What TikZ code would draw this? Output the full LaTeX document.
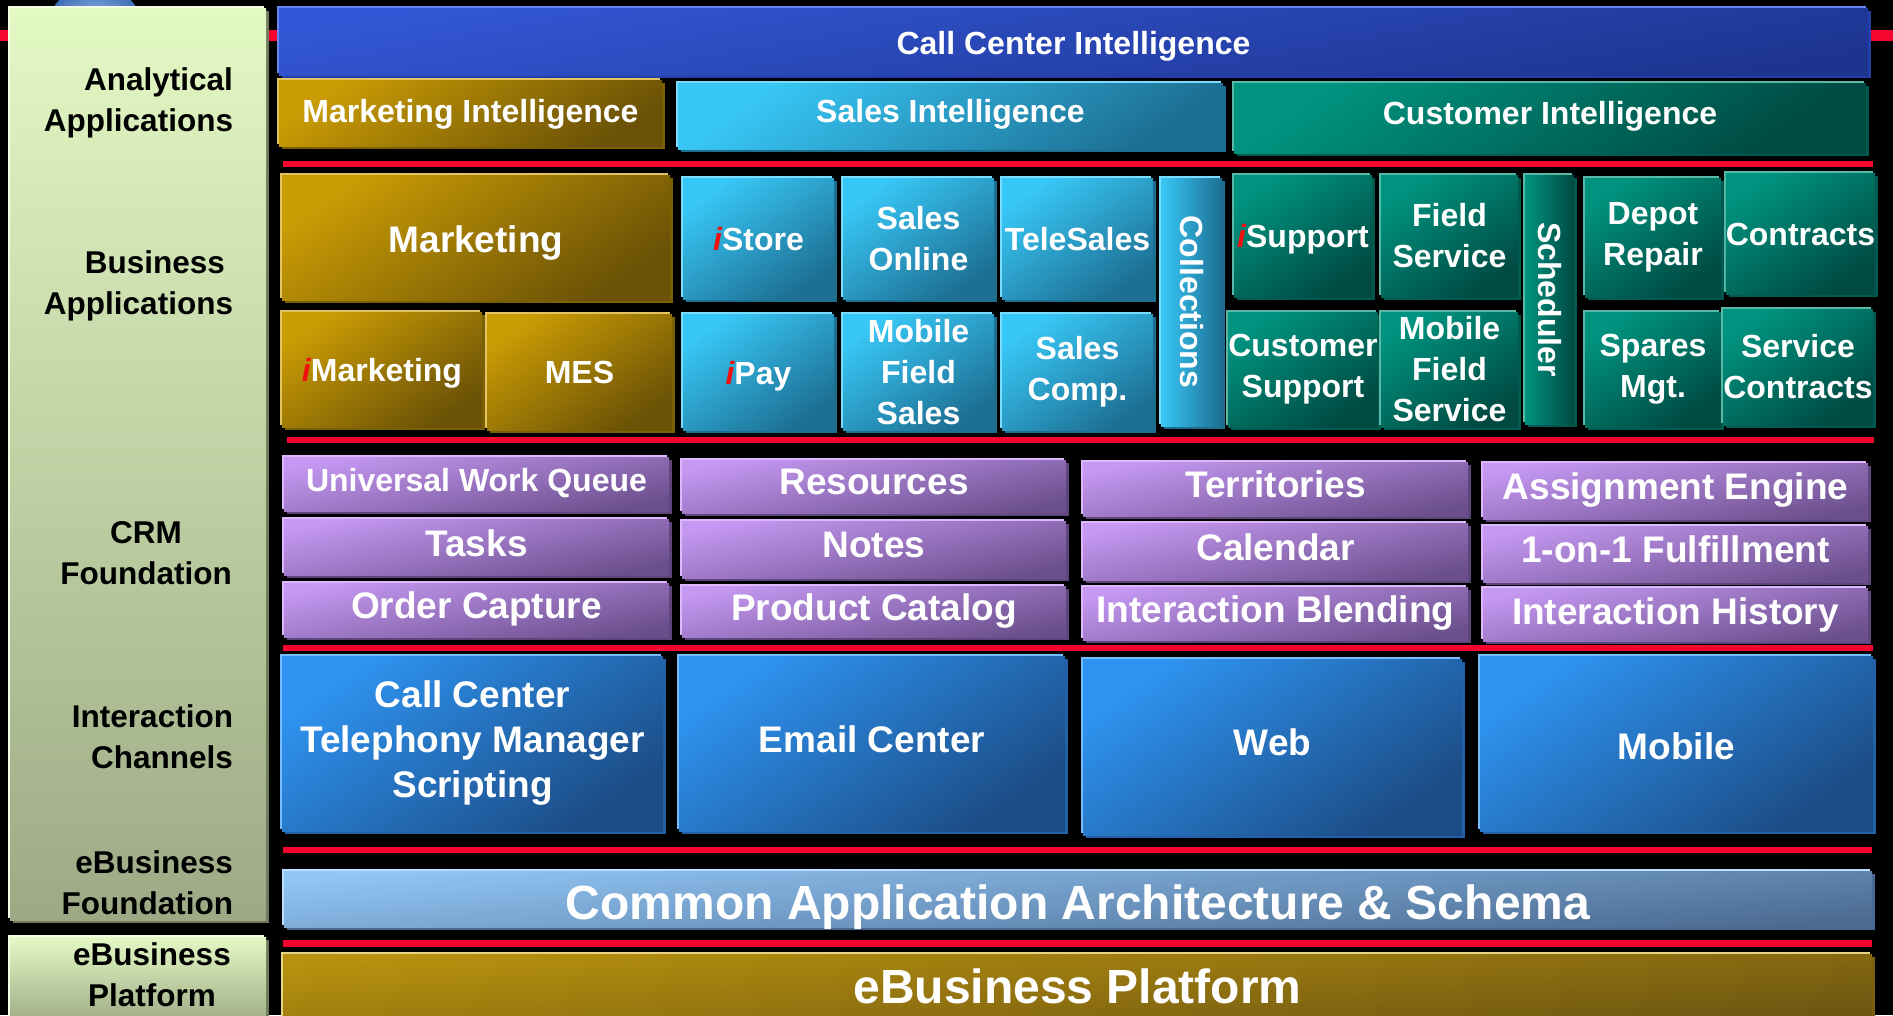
\documentclass[tikz,border=0pt]{standalone}
\usepackage{fontspec}
\setmainfont{Liberation Sans}

\definecolor{ired}{HTML}{F01010}
\definecolor{redline}{HTML}{F5062E}
\definecolor{goldT}{HTML}{C99B05}\definecolor{goldB}{HTML}{6B5206}\definecolor{goldE}{HTML}{E2C466}\definecolor{goldS}{HTML}{7C6000}
\definecolor{skyT}{HTML}{38C8F7}\definecolor{skyB}{HTML}{1D6F93}\definecolor{skyE}{HTML}{7ADCFF}\definecolor{skyS}{HTML}{1E6E90}
\definecolor{tealT}{HTML}{00937F}\definecolor{tealB}{HTML}{004A42}\definecolor{tealE}{HTML}{5AB8A8}\definecolor{tealS}{HTML}{005A50}
\definecolor{cciT}{HTML}{3357D6}\definecolor{cciB}{HTML}{1D348F}\definecolor{cciE}{HTML}{6686F0}\definecolor{cciS}{HTML}{2440A8}
\definecolor{purT}{HTML}{C598F2}\definecolor{purB}{HTML}{6B4F8C}\definecolor{purE}{HTML}{DDB8FF}\definecolor{purS}{HTML}{5E457C}
\definecolor{chanT}{HTML}{2E93F0}\definecolor{chanB}{HTML}{1C4C86}\definecolor{chanE}{HTML}{78BCFF}\definecolor{chanS}{HTML}{2362A8}
\definecolor{archT}{HTML}{92C6F5}\definecolor{archB}{HTML}{4B6A90}\definecolor{archE}{HTML}{BCDEFF}\definecolor{archS}{HTML}{4A6890}
\definecolor{platT}{HTML}{B8920E}\definecolor{platB}{HTML}{6E5612}\definecolor{platE}{HTML}{E8D488}\definecolor{platS}{HTML}{7A6010}
\definecolor{lcolT}{HTML}{E3F9C4}\definecolor{lcolB}{HTML}{9DA985}\definecolor{lcolE}{HTML}{F2FFE4}\definecolor{lcolS}{HTML}{6F7A5C}
\definecolor{globeL}{HTML}{B0CCF0}\definecolor{globeD}{HTML}{3E6EB8}

\newcommand\fntA{\bfseries\fontsize{32}{41}\selectfont}
\newcommand\fntB{\bfseries\fontsize{37}{45}\selectfont}
\newcommand\fntC{\bfseries\fontsize{48}{56}\selectfont}
\newcommand\fntL{\bfseries\fontsize{31.5}{41}\selectfont}
\newcommand\ri{{\color{ired}\itshape i}}
\newcommand\tile[7][]{%
  \node[tile,#1,minimum width={(#5-#3)*1pt},minimum height={(#6-#4)*1pt}] (#2) at ({(#3+#5)/2},{(#4+#6)/2}) {#7};}

\tikzset{
  tile/.style={inner sep=0pt, outer sep=0pt, text=white, align=center, font=\fntA},
  capy/.style={text height=#1pt, text depth=0pt},
  fam/.style n args={5}{top color=#1, bottom color=#2, shading angle=#5,
     preaction={fill=#3, transform canvas={shift={(-2pt,2pt)}}},
     preaction={fill=#4, transform canvas={shift={(3pt,-3pt)}}}},
  famv/.style n args={4}{left color=#1, right color=#2,
     preaction={fill=#3, transform canvas={shift={(-2pt,2pt)}}},
     preaction={fill=#4, transform canvas={shift={(3pt,-3pt)}}}},
  gold/.style={fam={goldT}{goldB}{goldE}{goldS}{35}},
  sky/.style={fam={skyT}{skyB}{skyE}{skyS}{35}},
  skyv/.style={famv={skyT}{skyB}{skyE}{skyS}},
  teal/.style={fam={tealT}{tealB}{tealE}{tealS}{35}},
  tealv/.style={famv={tealT}{tealB}{tealE}{tealS}},
  cci/.style={fam={cciT}{cciB}{cciE}{cciS}{10}},
  purp/.style={fam={purT}{purB}{purE}{purS}{12}, font=\fntB},
  chan/.style={fam={chanT}{chanB}{chanE}{chanS}{35}, font=\fntB},
  arch/.style={fam={archT}{archB}{archE}{archS}{5}, font=\fntC},
  plat/.style={fam={platT}{platB}{platE}{platS}{5}, font=\fntC},
  lcol/.style={fam={lcolT}{lcolB}{lcolE}{lcolS}{0}},
  lab/.style={inner sep=0pt, outer sep=0pt, text=black, font=\fntL},
  vtext/.style={inner sep=0pt, text=white, font=\fntA, rotate=-90},
  rline/.style={draw=redline, line width=6pt}
}

\begin{document}
\begin{tikzpicture}[x=1pt,y=-1pt]
\useasboundingbox (0,0) rectangle (1893,1015);
\fill[black] (0,0) rectangle (1893,1015);

% globe peeking above the label column
\fill[inner color=globeL, outer color=globeD] (95,35) circle (50);

% red separator lines
\draw[rline, line width=11pt] (0,35.5) -- (1893,35.5);
\draw[rline] (283,164) -- (1873,164);
\draw[rline] (287,440) -- (1874,440);
\draw[rline, line width=5.5pt] (283,648) -- (1873,648);
\draw[rline] (283,850) -- (1872,850);
\draw[rline, line width=6.5pt] (283,943.5) -- (1872,943.5);

% left label column
\tile[lcol]{lcol}{10}{8}{266}{920}{}
\tile[lcol]{lplat}{10}{937}{266}{1025}{}
\node[lab, align=right, anchor=east] (labA) at (233,103) {Analytical\\Applications};
\node[lab, align=right, anchor=east] (labB) at (233,285.5) {Business\hspace*{8pt}\\Applications};
\node[lab, align=center] (labC) at (146,553) {CRM\\Foundation};
\node[lab, align=right, anchor=east] (labD) at (233,737) {Interaction\\Channels};
\node[lab, align=right, anchor=east] (labE) at (233,883) {eBusiness\\Foundation};
\node[lab, align=center] (labF) at (152,974.5) {eBusiness\\Platform};

% analytical applications
\tile[cci,capy=26.9]{cci}{279}{8}{1868}{75}{Call Center Intelligence}
\tile[gold,capy=18.9]{mi}{279}{80}{662}{146}{Marketing Intelligence}
\tile[sky,capy=12.9]{si}{678}{83}{1223}{149}{Sales Intelligence}
\tile[teal,capy=13.9]{ci}{1234}{83}{1866}{153}{Customer Intelligence}

% business applications
\tile[gold,font=\fntB,capy=29.5]{mkt}{282}{175}{670}{300}{Marketing}
\tile[gold,capy=24.9]{imkt}{282}{312}{482}{427}{\ri Marketing}
\tile[gold,capy=22.9]{mes}{487}{314}{672}{430}{MES}
\tile[sky,capy=23.9]{istore}{683}{178}{834}{299}{\ri Store}
\tile[sky,capy=24.9]{ipay}{683}{314}{834}{430}{\ri Pay}
\tile[sky]{sonline}{843}{178}{994}{299}{Sales\\Online}
\tile[sky]{mfs}{843}{314}{994}{430}{Mobile\\Field\\Sales}
\tile[sky,capy=23.9]{tele}{1002}{178}{1153}{299}{TeleSales}
\tile[sky]{scomp}{1002}{314}{1153}{430}{Sales\\Comp.}
\tile[skyv]{coll}{1161}{178}{1222}{426}{}
\node[vtext] (collT) at (coll) {Collections};
\tile[teal,capy=23.9]{isup}{1234}{175}{1372}{297}{\ri Support}
\tile[teal]{fserv}{1381}{175}{1518}{297}{Field\\Service}
\tile[tealv]{sched}{1525}{175}{1574}{424}{}
\node[vtext] (schedT) at (sched) {Scheduler};
\tile[teal]{depot}{1585}{178}{1721}{297}{Depot\\Repair}
\tile[teal,capy=23.9]{contr}{1729}{173}{1872}{294}{Contracts}
\tile[teal]{csup}{1234}{312}{1372}{427}{Customer\\Support}
\tile[teal]{mfserv}{1381}{312}{1518}{427}{Mobile\\Field\\Service}
\tile[teal]{spares}{1585}{312}{1721}{427}{Spares\\Mgt.}
\tile[teal]{scontr}{1729}{309}{1867}{425}{Service\\Contracts}

% CRM foundation
\tile[purp,font=\fntA,capy=15.9]{uwq}{284}{457}{669}{511}{Universal Work Queue}
\tile[purp,capy=18.5]{tasks}{284}{519}{669}{575}{Tasks}
\tile[purp,capy=16.5]{order}{284}{583}{669}{637}{Order Capture}
\tile[purp,capy=16.5]{res}{682}{460}{1066}{513}{Resources}
\tile[purp,capy=16.5]{notes}{682}{521}{1066}{578}{Notes}
\tile[purp,capy=17.5]{pcat}{682}{586}{1066}{637}{Product Catalog}
\tile[purp,capy=16.5]{terr}{1083}{462}{1468}{516}{Territories}
\tile[purp,capy=17.5]{cal}{1083}{523}{1468}{580}{Calendar}
\tile[purp,capy=18.5]{iblend}{1083}{587}{1468}{640}{Interaction Blending}
\tile[purp,capy=17.5]{assign}{1483}{463}{1868}{519}{Assignment Engine}
\tile[purp,capy=16.5]{fulfil}{1483}{526}{1868}{582}{1-on-1 Fulfillment}
\tile[purp,capy=19.5]{ihist}{1483}{588}{1868}{641}{Interaction History}

% interaction channels
\tile[chan]{cc}{282}{656}{663}{831}{Call Center\\Telephony Manager\\Scripting}
\tile[chan,capy=17.5]{email}{679}{656}{1065}{831}{Email Center}
\tile[chan,capy=17.5]{web}{1083}{659}{1462}{835}{Web}
\tile[chan,capy=31.5]{mobile}{1480}{656}{1873}{831}{Mobile}

% eBusiness foundation and platform
\tile[arch,capy=40.4]{caa}{284}{871}{1872}{927}{Common Application Architecture \& Schema}
\tile[plat,capy=34.4]{ebp}{283}{954}{1872}{1018}{eBusiness Platform}
\end{tikzpicture}
\end{document}
